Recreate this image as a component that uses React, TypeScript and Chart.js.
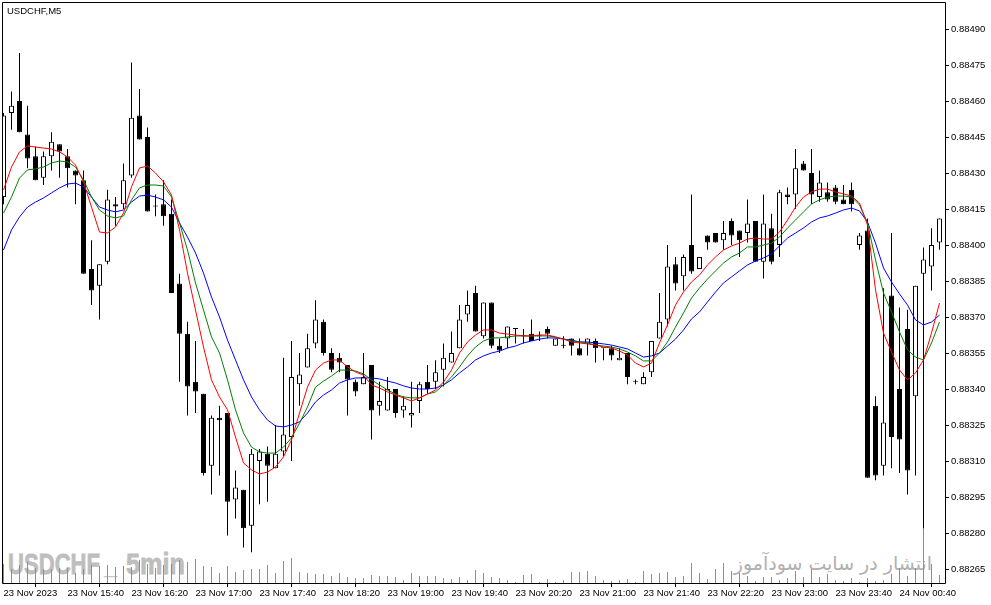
import React, { useEffect, useRef } from "react";
import { Chart, registerables } from "chart.js";
Chart.register(...registerables);

const chartTitle = "USDCHF,M5";
const watermarkSymbol = "USDCHF";
const watermarkPeriod = "5min";
const watermarkSite = "انتشار در سایت سودآموز";

const xTickIndex = [0, 8, 16, 24, 32, 40, 48, 56, 64, 72, 80, 88, 96, 104, 112];
const xTickLabels = [
  "23 Nov 2023", "23 Nov 15:40", "23 Nov 16:20", "23 Nov 17:00", "23 Nov 17:40",
  "23 Nov 18:20", "23 Nov 19:00", "23 Nov 19:40", "23 Nov 20:20", "23 Nov 21:00",
  "23 Nov 21:40", "23 Nov 22:20", "23 Nov 23:00", "23 Nov 23:40", "24 Nov 00:40",
];
const yTickValues = [
  0.88265, 0.8828, 0.88295, 0.8831, 0.88325, 0.8834, 0.88355, 0.8837,
  0.88385, 0.884, 0.88415, 0.8843, 0.88445, 0.8846, 0.88475, 0.8849,
];
const yMin = 0.8825917;
const yMax = 0.8850125;

const opens = [
  0.88420, 0.88455, 0.88460, 0.88446, 0.88437, 0.88428, 0.88437, 0.88442, 0.88437, 0.88431,
  0.88427, 0.88390, 0.88383, 0.88393, 0.88417, 0.88417, 0.88429, 0.88454, 0.88445, 0.88416,
  0.88417, 0.88413, 0.88384, 0.88363, 0.88343, 0.88338, 0.88308, 0.88328, 0.88330, 0.88294,
  0.88298, 0.88283, 0.88310, 0.88313, 0.88307, 0.88314, 0.88320, 0.88342, 0.88349, 0.88359,
  0.88368, 0.88355, 0.88353, 0.88350, 0.88343, 0.88342, 0.88350, 0.88333, 0.88331, 0.88340,
  0.88331, 0.88329, 0.88335, 0.88343, 0.88343, 0.88348, 0.88351, 0.88357, 0.88371, 0.88380,
  0.88362, 0.88376, 0.88358, 0.88361, 0.88365, 0.88362, 0.88363, 0.88362, 0.88365, 0.88358,
  0.88358, 0.88361, 0.88357, 0.88359, 0.88360, 0.88357, 0.88357, 0.88352, 0.88355, 0.88343,
  0.88342, 0.88347, 0.88361, 0.88369, 0.88392, 0.88387, 0.88400, 0.88390, 0.88404, 0.88405,
  0.88402, 0.88410, 0.88406, 0.88405, 0.88410, 0.88393, 0.88407, 0.88400, 0.88421, 0.88421,
  0.88434, 0.88430, 0.88420, 0.88422, 0.88424, 0.88419, 0.88423, 0.88400, 0.88406, 0.88333,
  0.88308, 0.88379, 0.88340, 0.88365, 0.88337, 0.88388, 0.88391, 0.88401,
];
const highs = [
  0.88455, 0.88464, 0.88480, 0.88458, 0.88441, 0.88439, 0.88447, 0.88442, 0.88440, 0.88431,
  0.88431, 0.88402, 0.88392, 0.88423, 0.88420, 0.88434, 0.88476, 0.88465, 0.88449, 0.88421,
  0.88427, 0.88419, 0.88388, 0.88368, 0.88360, 0.88338, 0.88329, 0.88333, 0.88330, 0.88306,
  0.88298, 0.88315, 0.88315, 0.88316, 0.88325, 0.88353, 0.88360, 0.88355, 0.88363, 0.88377,
  0.88369, 0.88357, 0.88355, 0.88350, 0.88344, 0.88355, 0.88350, 0.88343, 0.88345, 0.88340,
  0.88337, 0.88343, 0.88343, 0.88350, 0.88352, 0.88359, 0.88364, 0.88375, 0.88381, 0.88383,
  0.88376, 0.88376, 0.88361, 0.88366, 0.88365, 0.88365, 0.88369, 0.88364, 0.88366, 0.88361,
  0.88362, 0.88361, 0.88361, 0.88361, 0.88361, 0.88357, 0.88358, 0.88357, 0.88355, 0.88344,
  0.88347, 0.88360, 0.88380, 0.88400, 0.88395, 0.88396, 0.88421, 0.88395, 0.88404, 0.88405,
  0.88410, 0.88411, 0.88406, 0.88419, 0.88410, 0.88421, 0.88413, 0.88423, 0.88424, 0.88440,
  0.88435, 0.88440, 0.88431, 0.88426, 0.88425, 0.88425, 0.88426, 0.88405, 0.88411, 0.88337,
  0.88382, 0.88405, 0.88374, 0.88373, 0.88383, 0.88399, 0.88407, 0.88411,
];
const lows = [
  0.88417, 0.88448, 0.88447, 0.88432, 0.88427, 0.88425, 0.88431, 0.88428, 0.88424, 0.88417,
  0.88388, 0.88375, 0.88369, 0.88392, 0.88408, 0.88415, 0.88428, 0.88444, 0.88414, 0.88412,
  0.88408, 0.88380, 0.88343, 0.88329, 0.88330, 0.88304, 0.88296, 0.88304, 0.88279, 0.88286,
  0.88274, 0.88272, 0.88292, 0.88293, 0.88307, 0.88312, 0.88310, 0.88333, 0.88349, 0.88357,
  0.88354, 0.88347, 0.88347, 0.88329, 0.88337, 0.88342, 0.88319, 0.88329, 0.88331, 0.88328,
  0.88328, 0.88324, 0.88330, 0.88338, 0.88340, 0.88341, 0.88351, 0.88357, 0.88368, 0.88364,
  0.88361, 0.88357, 0.88355, 0.88357, 0.88359, 0.88359, 0.88360, 0.88360, 0.88361, 0.88358,
  0.88357, 0.88354, 0.88354, 0.88354, 0.88351, 0.88352, 0.88352, 0.88352, 0.88342, 0.88342,
  0.88342, 0.88345, 0.88361, 0.88366, 0.88381, 0.88381, 0.88388, 0.88390, 0.88398, 0.88401,
  0.88398, 0.88400, 0.88395, 0.88401, 0.88393, 0.88386, 0.88392, 0.88395, 0.88417, 0.88415,
  0.88431, 0.88417, 0.88418, 0.88418, 0.88417, 0.88417, 0.88414, 0.88398, 0.88303, 0.88302,
  0.88304, 0.88307, 0.88305, 0.88296, 0.88304, 0.88282, 0.88381, 0.88398,
];
const closes = [
  0.88454, 0.88458, 0.88447, 0.88436, 0.88427, 0.88437, 0.88443, 0.88439, 0.88432, 0.88429,
  0.88388, 0.88381, 0.88392, 0.88419, 0.88416, 0.88427, 0.88453, 0.88444, 0.88414, 0.88416,
  0.88412, 0.88380, 0.88363, 0.88341, 0.88339, 0.88305, 0.88328, 0.88327, 0.88293, 0.88299,
  0.88282, 0.88313, 0.88314, 0.88308, 0.88313, 0.88321, 0.88345, 0.88346, 0.88357, 0.88369,
  0.88355, 0.88348, 0.88351, 0.88344, 0.88339, 0.88345, 0.88331, 0.88335, 0.88340, 0.88330,
  0.88333, 0.88330, 0.88342, 0.88340, 0.88347, 0.88353, 0.88355, 0.88369, 0.88375, 0.88364,
  0.88376, 0.88358, 0.88356, 0.88366, 0.88365, 0.88362, 0.88360, 0.88362, 0.88363, 0.88361,
  0.88358, 0.88358, 0.88354, 0.88361, 0.88357, 0.88357, 0.88354, 0.88353, 0.88345, 0.88343,
  0.88345, 0.88360, 0.88368, 0.88391, 0.88384, 0.88395, 0.88389, 0.88395, 0.88401, 0.88401,
  0.88405, 0.88404, 0.88402, 0.88409, 0.88393, 0.88409, 0.88393, 0.88422, 0.88420, 0.88432,
  0.88431, 0.88421, 0.88426, 0.88419, 0.88418, 0.88417, 0.88417, 0.88404, 0.88303, 0.88304,
  0.88326, 0.88320, 0.88319, 0.88306, 0.88383, 0.88394, 0.88400, 0.88411,
];
const volumes = [
  19, 14, 18, 21, 15, 14, 14, 15, 15, 10,
  14, 18, 17, 18, 16, 17, 16, 23, 19, 15,
  18, 19, 23, 21, 24, 17, 16, 10, 17, 11,
  13, 14, 14, 18, 10, 22, 25, 11, 10, 9,
  9, 7, 10, 6, 5, 5, 8, 7, 7, 6,
  3, 10, 7, 7, 7, 5, 4, 6, 3, 13,
  10, 6, 5, 3, 1, 8, 9, 1, 4, 1,
  3, 11, 11, 12, 7, 3, 2, 3, 4, 1,
  12, 9, 10, 11, 6, 7, 20, 10, 4, 14,
  20, 12, 10, 7, 2, 6, 6, 3, 5, 12,
  6, 14, 6, 9, 3, 2, 5, 1, 5, 2,
  3, 9, 15, 7, 15, 56, 19, 8,
];
const volumeAxisMax = 581;

const maRed = [
  0.884229, 0.884325, 0.884388, 0.884413, 0.884408, 0.884404, 0.8844, 0.884388, 0.884367, 0.884333,
  0.884263, 0.884158, 0.884054, 0.88405, 0.884075, 0.884133, 0.884242, 0.884321, 0.884329, 0.8843,
  0.884263, 0.884208, 0.884063, 0.883883, 0.883729, 0.883575, 0.883438, 0.883367, 0.883313, 0.8832,
  0.883092, 0.883063, 0.883046, 0.883054, 0.883075, 0.883117, 0.883188, 0.8833, 0.883408, 0.883479,
  0.883508, 0.883521, 0.883521, 0.883492, 0.883471, 0.883458, 0.883417, 0.883404, 0.883388, 0.883375,
  0.883363, 0.88335, 0.883363, 0.883379, 0.883396, 0.883429, 0.883479, 0.88355, 0.883596, 0.883625,
  0.883646, 0.883646, 0.883633, 0.883629, 0.883625, 0.883621, 0.883621, 0.883625, 0.883625, 0.883617,
  0.883608, 0.883596, 0.883592, 0.883588, 0.883583, 0.883575, 0.883571, 0.883558, 0.883542, 0.883508,
  0.883492, 0.883508, 0.883592, 0.883667, 0.88375, 0.883804, 0.883846, 0.883875, 0.883917, 0.88395,
  0.883979, 0.883996, 0.884008, 0.884025, 0.884029, 0.884025, 0.884025, 0.884054, 0.884104, 0.884158,
  0.8842, 0.884221, 0.884233, 0.884233, 0.884221, 0.884213, 0.884204, 0.884175, 0.884083, 0.883813,
  0.883633, 0.883554, 0.883479, 0.883438, 0.883467, 0.883521, 0.883633, 0.883758,
];
const maGreen = [
  0.884133, 0.8842, 0.884279, 0.884313, 0.884317, 0.884325, 0.884342, 0.88435, 0.884346, 0.884325,
  0.884271, 0.8842, 0.884146, 0.884121, 0.884113, 0.884121, 0.884188, 0.884238, 0.88425, 0.88425,
  0.884246, 0.8842, 0.884092, 0.883979, 0.883842, 0.883729, 0.883617, 0.88355, 0.883438, 0.883313,
  0.883217, 0.883158, 0.883138, 0.883133, 0.883133, 0.883158, 0.883196, 0.883258, 0.883325, 0.883408,
  0.883433, 0.883454, 0.883479, 0.883479, 0.883475, 0.883463, 0.883438, 0.883417, 0.883396, 0.883379,
  0.883367, 0.883363, 0.883363, 0.883379, 0.883388, 0.883417, 0.88345, 0.883492, 0.883538, 0.883575,
  0.8836, 0.883613, 0.883613, 0.883617, 0.883621, 0.883621, 0.883621, 0.883621, 0.883621, 0.883617,
  0.883608, 0.8836, 0.883596, 0.883592, 0.883583, 0.883579, 0.883575, 0.883567, 0.883554, 0.883538,
  0.883517, 0.883517, 0.88355, 0.883596, 0.883658, 0.883717, 0.883779, 0.883821, 0.883858, 0.883892,
  0.883925, 0.88395, 0.883967, 0.883992, 0.883992, 0.884, 0.884008, 0.884033, 0.884071, 0.884104,
  0.884138, 0.884171, 0.884188, 0.8842, 0.884204, 0.884204, 0.8842, 0.884167, 0.884092, 0.883938,
  0.8838, 0.883721, 0.883638, 0.883563, 0.883533, 0.883521, 0.883592, 0.883679,
];
const maBlue = [
  0.883979, 0.884063, 0.884117, 0.884158, 0.884179, 0.884196, 0.884217, 0.884238, 0.884254, 0.884258,
  0.884242, 0.8842, 0.884158, 0.884146, 0.884138, 0.884146, 0.884179, 0.884204, 0.884208, 0.8842,
  0.884188, 0.884158, 0.884092, 0.884033, 0.883967, 0.883883, 0.883783, 0.8837, 0.883604, 0.883521,
  0.883438, 0.883367, 0.883313, 0.883271, 0.883246, 0.883242, 0.88325, 0.883263, 0.8833, 0.883346,
  0.883375, 0.883396, 0.883425, 0.883438, 0.883446, 0.883446, 0.883446, 0.883442, 0.883433, 0.883425,
  0.883413, 0.883404, 0.8834, 0.8834, 0.883404, 0.883417, 0.883438, 0.883467, 0.883492, 0.883521,
  0.883538, 0.88355, 0.883558, 0.883571, 0.883579, 0.883592, 0.8836, 0.883608, 0.883613, 0.883613,
  0.883608, 0.883604, 0.883596, 0.883596, 0.883592, 0.883588, 0.883583, 0.883575, 0.883567, 0.88355,
  0.883533, 0.883538, 0.88355, 0.883579, 0.883608, 0.883646, 0.883692, 0.883721, 0.883763, 0.883804,
  0.883842, 0.883867, 0.883892, 0.883917, 0.883933, 0.883946, 0.883963, 0.883996, 0.884029, 0.88405,
  0.884071, 0.884096, 0.884113, 0.884121, 0.884133, 0.884146, 0.884154, 0.884142, 0.884096, 0.884008,
  0.883904, 0.883846, 0.883796, 0.88375, 0.883688, 0.883667, 0.883679, 0.883708,
];

const FONT = "'Liberation Sans', Arial, sans-serif";

const framePlugin = {
  id: "frame",
  afterDraw(chart: any) {
    const { ctx, chartArea: a } = chart;
    ctx.save();
    ctx.strokeStyle = "#000";
    ctx.lineWidth = 1;
    ctx.beginPath();
    ctx.moveTo(a.left + 0.5, a.top + 0.5);
    ctx.lineTo(a.right + 0.5, a.top + 0.5);
    ctx.lineTo(a.right + 0.5, a.bottom + 0.5);
    ctx.lineTo(a.left + 0.5, a.bottom + 0.5);
    ctx.closePath();
    ctx.stroke();
    ctx.restore();
  },
};

export default function App() {
  const canvasRef = useRef<HTMLCanvasElement | null>(null);

  useEffect(() => {
    const canvas = canvasRef.current;
    if (!canvas) return;
    const idx = opens.map((_, i) => i);
    const chart = new Chart(canvas, {
      type: "bar",
      data: {
        datasets: [
          {
            type: "line",
            label: "MA fast",
            data: idx.map((i) => ({ x: i, y: maRed[i] })),
            borderColor: "#ff0000",
            borderWidth: 1,
            pointRadius: 0,
            fill: false,
            tension: 0,
            yAxisID: "y",
            order: 1,
          } as any,
          {
            type: "line",
            label: "MA medium",
            data: idx.map((i) => ({ x: i, y: maGreen[i] })),
            borderColor: "#008000",
            borderWidth: 1,
            pointRadius: 0,
            fill: false,
            tension: 0,
            yAxisID: "y",
            order: 2,
          } as any,
          {
            type: "line",
            label: "MA slow",
            data: idx.map((i) => ({ x: i, y: maBlue[i] })),
            borderColor: "#0000ff",
            borderWidth: 1,
            pointRadius: 0,
            fill: false,
            tension: 0,
            yAxisID: "y",
            order: 3,
          } as any,
          {
            type: "bar",
            label: "Body",
            data: idx.map((i) => ({ x: i, y: [opens[i], closes[i]] })),
            backgroundColor: idx.map((i) => (closes[i] > opens[i] ? "#ffffff" : "#000000")),
            borderColor: "#000000",
            borderWidth: 1,
            borderSkipped: false,
            barThickness: 5,
            minBarLength: 1,
            grouped: false,
            inflateAmount: 0,
            yAxisID: "y",
            order: 4,
          } as any,
          {
            type: "bar",
            label: "Wick",
            data: idx.map((i) => ({ x: i, y: [lows[i], highs[i]] })),
            backgroundColor: "#000000",
            borderWidth: 0,
            barThickness: 1,
            minBarLength: 1,
            grouped: false,
            inflateAmount: 0,
            yAxisID: "y",
            order: 5,
          } as any,
          {
            type: "bar",
            label: "Volume",
            data: idx.map((i) => ({ x: i, y: volumes[i] })),
            backgroundColor: "#32cd32",
            borderWidth: 0,
            barThickness: 1,
            grouped: false,
            inflateAmount: 0,
            yAxisID: "yv",
            order: 6,
          } as any,
        ],
      },
      options: {
        animation: false,
        responsive: false,
        devicePixelRatio: 1,
        events: [],
        layout: { padding: { left: 2, top: 2, right: 0, bottom: 0 } },
        plugins: { legend: { display: false }, tooltip: { enabled: false }, title: { display: false } },
        scales: {
          x: {
            type: "linear",
            min: -0.1875,
            max: 117.6875,
            offset: false,
            border: { display: false },
            grid: { display: true, drawOnChartArea: false, drawTicks: true, tickLength: 4, color: "#000" },
            ticks: {
              autoSkip: false,
              maxRotation: 0,
              minRotation: 0,
              align: "start",
              padding: 1,
              color: "#000",
              font: { family: FONT, size: 9.5 },
              callback: (v: any) => {
                const k = xTickIndex.indexOf(Number(v));
                return k >= 0 ? xTickLabels[k] : "";
              },
            },
            afterBuildTicks: (axis: any) => {
              axis.ticks = xTickIndex.map((v) => ({ value: v }));
            },
            afterFit: (axis: any) => {
              axis.height = 22;
              axis.paddingLeft = 0;
              axis.paddingRight = 0;
            },
          } as any,
          y: {
            type: "linear",
            position: "right",
            min: yMin,
            max: yMax,
            border: { display: false },
            grid: { display: true, drawOnChartArea: false, drawTicks: true, tickLength: 4, color: "#000" },
            ticks: {
              padding: 2,
              color: "#000",
              font: { family: FONT, size: 9.5 },
              callback: (v: any) => Number(v).toFixed(5),
            },
            afterBuildTicks: (axis: any) => {
              axis.ticks = yTickValues.map((v) => ({ value: v }));
            },
            afterFit: (axis: any) => {
              axis.width = 46;
              axis.paddingTop = 0;
              axis.paddingBottom = 0;
            },
          } as any,
          yv: {
            type: "linear",
            display: false,
            min: 0,
            max: volumeAxisMax,
          },
        },
      } as any,
      plugins: [framePlugin],
    });
    return () => chart.destroy();
  }, []);

  return (
    <div
      style={{
        position: "fixed",
        left: 0,
        top: 0,
        width: 991,
        height: 605,
        background: "#ffffff",
        overflow: "hidden",
      }}
    >
      <div
        style={{
          position: "absolute",
          left: 8,
          top: 549,
          fontFamily: FONT,
          fontWeight: "bold",
          fontSize: 29.7,
          lineHeight: 1,
          color: "#bebebe",
          WebkitTextStroke: "0.8px #bebebe",
          whiteSpace: "nowrap",
          transform: "scaleX(0.744)",
          transformOrigin: "left top",
        }}
      >
        {watermarkSymbol}
      </div>
      <div
        style={{
          position: "absolute",
          left: 104,
          top: 549,
          fontFamily: FONT,
          fontWeight: "bold",
          fontSize: 29.7,
          lineHeight: 1,
          color: "#c8c8c8",
          whiteSpace: "nowrap",
          transform: "scaleX(0.8)",
          transformOrigin: "left top",
        }}
      >
        _
      </div>
      <div
        style={{
          position: "absolute",
          left: 126,
          top: 549,
          fontFamily: FONT,
          fontWeight: "bold",
          fontSize: 29.7,
          lineHeight: 1,
          color: "#bebebe",
          WebkitTextStroke: "0.8px #bebebe",
          whiteSpace: "nowrap",
          transform: "scaleX(0.85)",
          transformOrigin: "left top",
        }}
      >
        {watermarkPeriod}
      </div>
      <div
        dir="rtl"
        style={{
          position: "absolute",
          right: 59,
          top: 554,
          fontFamily: "'DejaVu Sans', sans-serif",
          fontSize: 19,
          lineHeight: 1,
          color: "#b0b0b0",
          whiteSpace: "nowrap",
        }}
      >
        {watermarkSite}
      </div>
      <canvas
        ref={canvasRef}
        width={991}
        height={605}
        style={{ position: "absolute", left: 0, top: 0, width: 991, height: 605 }}
      />
      <div
        style={{
          position: "absolute",
          left: 7,
          top: 6,
          fontFamily: FONT,
          fontSize: 9.5,
          lineHeight: 1,
          color: "#000",
          whiteSpace: "nowrap",
        }}
      >
        {chartTitle}
      </div>
    </div>
  );
}
